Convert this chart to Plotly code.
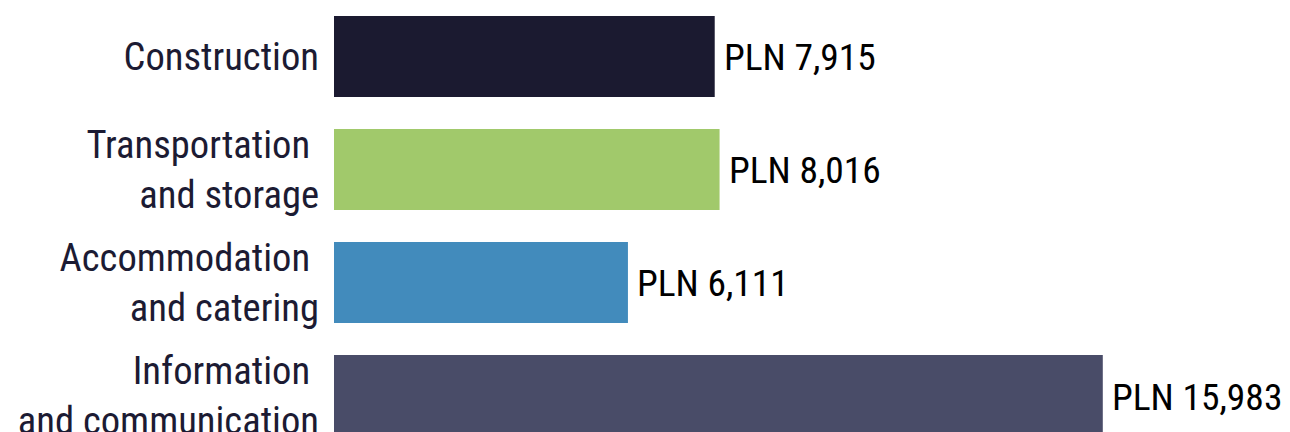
import plotly.graph_objects as go

# sectors (top to bottom) and average gross salary in PLN
sectors = [
    "Construction",
    "Transportation\u00a0<br>and storage",
    "Accommodation\u00a0<br>and catering",
    "Information\u00a0<br>and communication",
]
salaries = [7915, 8016, 6111, 15983]
value_labels = ["PLN 7,915", "PLN 8,016", "PLN 6,111", "PLN 15,983"]
bar_colors = ["#1b1a30", "#a1c96b", "#428bbc", "#494c68"]

FONT = "Roboto Condensed, Liberation Sans Narrow, Roboto, sans-serif"

fig = go.Figure(
    go.Bar(
        x=salaries,
        y=sectors,
        orientation="h",
        marker=dict(color=bar_colors, line=dict(width=0)),
        hoverinfo="skip",
    )
)

# value labels sit just right of each bar end
for sector, val, lab in zip(sectors, salaries, value_labels):
    fig.add_annotation(
        x=val, y=sector, text=lab, showarrow=False,
        xanchor="left", yanchor="middle", xshift=7, yshift=-1,
        font=dict(family=FONT, size=37.5, color="#000000"),
    )

# page body adds an 8px margin, so the figure is sized to fit the window
fig.update_layout(
    width=1282, height=424,
    margin=dict(l=326, r=0, t=0, b=0),
    paper_bgcolor="white", plot_bgcolor="white",
    bargap=0.283,
    showlegend=False,
    xaxis=dict(range=[0, 19875], visible=False, fixedrange=True,
               automargin=False),
    yaxis=dict(
        range=[3.323, -0.429],
        showgrid=False, zeroline=False, showline=False, ticks="",
        ticklabelstandoff=14, automargin=False,
        tickfont=dict(family=FONT, size=38.6, color="#1c1b33"),
        fixedrange=True,
    ),
)

fig.write_html("out.html")
